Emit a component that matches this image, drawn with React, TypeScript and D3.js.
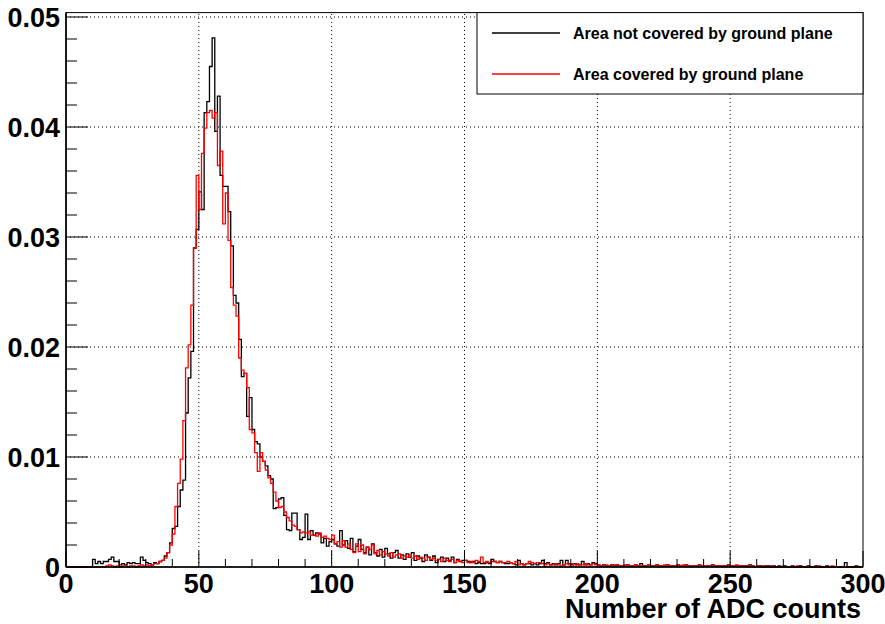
import React from 'react';
import * as d3 from 'd3';

const W = 885;
const H = 624;

const xMajorTicks = [0, 50, 100, 150, 200, 250, 300];
const xMinorTicks = d3.range(0, 301, 10);
const yMajorTicks = [0, 0.01, 0.02, 0.03, 0.04, 0.05];
const yMinorTicks = d3.range(0, 0.0501, 0.002);
const yTickLabels = ['0', '0.01', '0.02', '0.03', '0.04', '0.05'];
const xTickLabels = ['0', '50', '100', '150', '200', '250', '300'];
const legendLabels = ['Area not covered by ground plane', 'Area covered by ground plane'];
const seriesColors = ['#000000', '#ff0000'];
const xTitle = 'Number of ADC counts';

// "Area not covered by ground plane" — bins 0..99, 100..199, 200..299 (bin width 1 ADC count)
const notCoveredA = [
  0, 0, 0, 0, 0, 0, 0, 0, 0, 0,
  .0007, .0003, .0005, .0003, .0005, .0005, .0007, .0009, .0005, .0005,
  .0002, .0003, .0002, .0004, .0003, .0004, .0003, .0003, .0009, .0006,
  .0004, .0003, .0002, .0004, .0003, .0005, .0006, .0010, .0013, .0022,
  .0035, .0037, .0055, .0070, .0079, .0140, .0172, .0196, .0290, .0307,
  .0341, .0325, .0413, .0423, .0455, .0481, .0396, .0428, .0356, .0346,
  .0346, .0323, .0292, .0247, .0240, .0207, .0173, .0176, .0137, .0154,
  .0125, .0114, .0112, .0100, .0096, .0092, .0083, .0080, .0053, .0054,
  .0062, .0063, .0047, .0034, .0033, .0049, .0049, .0034, .0025, .0027,
  .0048, .0025, .0033, .0029, .0031, .0030, .0022, .0026, .0019, .0023,
];
const notCoveredB = [
  .0025, .0021, .0019, .0033, .0020, .0024, .0017, .0026, .0014, .0019,
  .0025, .0016, .0013, .0018, .0011, .0021, .0013, .0010, .0016, .0009,
  .0017, .0012, .0008, .0013, .0015, .0008, .0011, .0007, .0012, .0009,
  .0013, .0006, .0010, .0008, .0005, .0011, .0009, .0006, .0010, .0004,
  .0007, .0009, .0005, .0008, .0006, .0009, .0004, .0007, .0005, .0006,
  .0006, .0005, .0004, .0005, .0003, .0004, .0003, .0003, .0004, .0003,
  .0007, .0005, .0004, .0005, .0004, .0003, .0003, .0004, .0003, .0002,
  .0006, .0003, .0002, .0003, .0003, .0002, .0003, .0002, .0003, .0006,
  .0003, .0004, .0002, .0003, .0002, .0003, .0006, .0002, .0006, .0003,
  .0002, .0003, .0002, .0002, .0005, .0002, .0003, .0002, .0004, .0003,
];
const notCoveredC = [
  .0002, .0001, .0002, .0001, .0001, .0002, .0001, .0002, .0001, .0001,
  .0001, .0002, .0001, .0001, .0002, .0001, .0003, .0001, .0001, .0002,
  .0001, .0001, .0002, .0001, .0001, .0001, .0002, .0001, .0001, .0001,
  .0002, .0001, .0001, .0002, .0001, .0001, .0001, .0001, .0002, .0001,
  .0001, .0001, .0001, .0002, .0001, .0001, .0001, .0001, .0001, .0002,
  .0001, .0001, .0001, .0001, .0001, .0001, .0001, .0002, .0001, 0,
  .0001, .0001, 0, .0001, .0001, 0, .0001, 0, .0001, 0,
  .0001, 0, 0, .0001, 0, 0, .0001, 0, 0, .0001,
  0, 0, .0001, 0, 0, 0, .0001, 0, 0, 0,
  0, 0, 0, .0004, 0, 0, 0, .0001, 0, 0,
];

// "Area covered by ground plane"
const coveredA = [
  0, 0, 0, 0, 0, 0, 0, 0, 0, 0,
  0, 0, 0, 0, 0, .0001, .0002, .0001, 0, .0001,
  0, .0001, .0001, 0, .0001, .0001, 0, .0001, .0002, .0001,
  .0002, .0001, .0002, .0003, .0003, .0005, .0006, .0008, .0013, .0020,
  .0030, .0055, .0076, .0098, .0133, .0181, .0202, .0238, .0290, .0356,
  .0325, .0376, .0399, .0413, .0415, .0408, .0413, .0365, .0378, .0312,
  .0340, .0297, .0254, .0238, .0228, .0190, .0179, .0176, .0163, .0125,
  .0122, .0104, .0087, .0104, .0096, .0088, .0081, .0076, .0068, .0060,
  .0054, .0055, .0050, .0045, .0042, .0038, .0037, .0034, .0031, .0032,
  .0031, .0032, .0029, .0029, .0028, .0031, .0027, .0028, .0026, .0025,
];
const coveredB = [
  .0029, .0021, .0023, .0018, .0024, .0018, .0021, .0016, .0013, .0021,
  .0014, .0020, .0012, .0018, .0016, .0020, .0012, .0015, .0011, .0014,
  .0012, .0010, .0013, .0009, .0011, .0012, .0008, .0010, .0009, .0011,
  .0008, .0010, .0007, .0009, .0008, .0006, .0009, .0007, .0008, .0006,
  .0007, .0005, .0008, .0006, .0005, .0007, .0004, .0006, .0005, .0004,
  .0006, .0004, .0005, .0004, .0006, .0005, .0009, .0004, .0005, .0004,
  .0005, .0005, .0004, .0005, .0004, .0004, .0005, .0004, .0003, .0005,
  .0002, .0003, .0002, .0003, .0005, .0004, .0003, .0004, .0004, .0003,
  .0002, .0003, .0002, .0002, .0003, .0002, .0001, .0002, .0003, .0002,
  .0003, .0002, .0003, .0002, .0002, .0003, .0002, .0002, .0003, .0002,
];
const coveredC = [
  .0002, .0001, .0001, .0002, .0001, .0001, .0002, .0001, .0001, .0001,
  .0002, .0001, .0001, .0001, .0002, .0001, .0001, .0001, .0001, .0002,
  .0001, .0001, .0001, .0001, .0001, .0002, .0001, .0001, .0001, .0001,
  .0001, .0001, .0002, .0001, .0001, .0001, .0001, .0001, .0001, .0001,
  .0001, .0001, .0001, .0001, .0001, .0001, .0001, .0001, .0001, .0001,
  .0001, .0001, .0002, .0001, .0001, .0001, 0, .0001, .0001, 0,
  .0001, 0, .0001, 0, 0, .0001, 0, 0, 0, 0,
  0, 0, 0, 0, 0, .0001, 0, 0, 0, 0,
  0, 0, 0, .0001, 0, 0, 0, 0, .0001, 0,
  0, 0, 0, 0, 0, 0, 0, 0, 0, 0,
];

const notCovered = [...notCoveredA, ...notCoveredB, ...notCoveredC];
const covered = [...coveredA, ...coveredB, ...coveredC];
const series = [notCovered, covered];

const FONT = '"Liberation Sans", Arial, Helvetica, sans-serif';

export default function App() {
  const left = 66, right = 863, top = 12.6, bottom = 567;
  const x = d3.scaleLinear().domain([0, 300]).range([left, right]);
  const y = d3.scaleLinear().domain([0, 0.0504]).range([bottom, top]);

  const line = d3
    .line<[number, number]>()
    .x((d) => x(d[0]))
    .y((d) => y(d[1]))
    .curve(d3.curveStepAfter);

  const makePath = (vals: number[]) => {
    const pts: [number, number][] = [[0, 0]];
    vals.forEach((v, i) => pts.push([i, v]));
    pts.push([vals.length, vals[vals.length - 1]]);
    return line(pts) || '';
  };

  const dash = '1,3';

  return (
    <svg width={W} height={H} style={{ position: 'absolute', left: 0, top: 0, background: '#fff' }}>
      <rect x={0} y={0} width={W} height={H} fill="#fff" />
      {/* grid */}
      {xMajorTicks.slice(1, -1).map((t) => (
        <line key={'gx' + t} x1={x(t)} x2={x(t)} y1={bottom} y2={top} stroke="#000" strokeWidth={1} strokeDasharray={dash} />
      ))}
      {yMajorTicks.slice(1).map((t) => (
        <line key={'gy' + t} x1={left} x2={right} y1={y(t)} y2={y(t)} stroke="#000" strokeWidth={1} strokeDasharray={dash} />
      ))}
      {/* histograms */}
      {series.map((s, i) => (
        <path key={'s' + i} d={makePath(s)} fill="none" stroke={seriesColors[i]} strokeWidth={1.3} strokeLinejoin="miter" />
      ))}
      {/* frame */}
      <rect x={left} y={top} width={right - left} height={bottom - top} fill="none" stroke="#000" strokeWidth={1} />
      <line x1={left} x2={left} y1={top} y2={bottom} stroke="#000" strokeWidth={1.6} />
      <line x1={left} x2={right} y1={bottom} y2={bottom} stroke="#000" strokeWidth={1.6} />
      {/* x ticks */}
      {xMinorTicks.map((t) => {
        const major = t % 50 === 0;
        return (
          <line key={'xt' + t} x1={x(t)} x2={x(t)} y1={bottom} y2={bottom - (major ? 16 : 8)} stroke="#000" strokeWidth={1} />
        );
      })}
      {/* y ticks */}
      {yMinorTicks.map((t, i) => {
        const major = i % 5 === 0;
        return (
          <line key={'yt' + i} x1={left} x2={left + (major ? 22 : 11)} y1={y(t)} y2={y(t)} stroke="#000" strokeWidth={1} />
        );
      })}
      {/* x tick labels */}
      {xMajorTicks.map((t, i) => (
        <text key={'xl' + t} x={x(t)} y={593} textAnchor="middle" fontFamily={FONT} fontWeight="bold" fontSize={27} fill="#000">
          {xTickLabels[i]}
        </text>
      ))}
      {/* y tick labels */}
      {yMajorTicks.map((t, i) => (
        <text key={'yl' + t} x={60} y={y(t) + 9.7} textAnchor="end" fontFamily={FONT} fontWeight="bold" fontSize={27} fill="#000">
          {yTickLabels[i]}
        </text>
      ))}
      {/* axis title */}
      <text x={861} y={618} textAnchor="end" fontFamily={FONT} fontWeight="bold" fontSize={27} fill="#000">
        {xTitle}
      </text>
      {/* legend */}
      <rect x={477} y={top} width={right - 477} height={94 - top} fill="#fff" stroke="#000" strokeWidth={1} />
      {legendLabels.map((lab, i) => {
        const ly = 33 + i * 41;
        return (
          <g key={'lg' + i}>
            <line x1={492} x2={560} y1={ly} y2={ly} stroke={seriesColors[i]} strokeWidth={1.3} />
            <text x={573} y={ly + 5.7} fontFamily={FONT} fontWeight="bold" fontSize={16} fill="#000">
              {lab}
            </text>
          </g>
        );
      })}
    </svg>
  );
}
